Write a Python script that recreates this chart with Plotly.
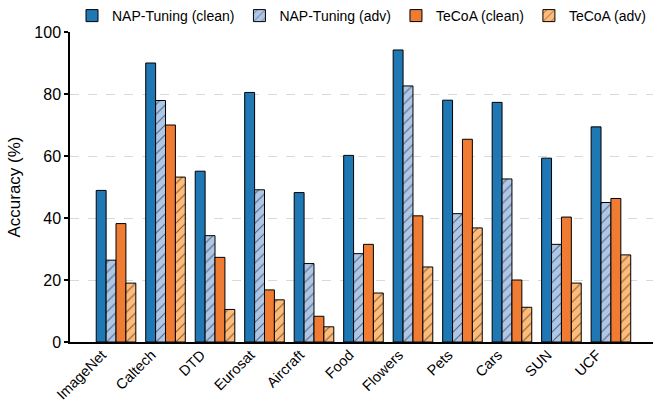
import plotly.graph_objects as go

categories = ["ImageNet", "Caltech", "DTD", "Eurosat", "Aircraft", "Food",
              "Flowers", "Pets", "Cars", "SUN", "UCF"]
nap_clean = [48.9, 90.0, 55.1, 80.5, 48.2, 60.2, 94.2, 78.0, 77.3, 59.3, 69.4]
nap_adv = [26.4, 77.9, 34.3, 49.1, 25.3, 28.5, 82.6, 41.4, 52.6, 31.5, 45.0]
tecoa_clean = [38.2, 70.0, 27.3, 16.8, 8.3, 31.5, 40.7, 65.4, 20.0, 40.3, 46.3]
tecoa_adv = [19.0, 53.2, 10.5, 13.6, 4.9, 15.8, 24.2, 36.8, 11.2, 19.0, 28.1]
y_ticks = [0, 20, 40, 60, 80, 100]

series = [
    ("NAP-Tuning (clean)", nap_clean, "#1f77b4", ""),
    ("NAP-Tuning (adv)", nap_adv, "#aec7e8", "/"),
    ("TeCoA (clean)", tecoa_clean, "#f07b32", ""),
    ("TeCoA (adv)", tecoa_adv, "#ffbb78", "/"),
]

fig = go.Figure()
for name, vals, color, pat in series:
    fig.add_trace(go.Bar(
        x=categories, y=vals, name=name,
        marker=dict(color=color, line=dict(color="black", width=1),
                    pattern=dict(shape=pat, fgcolor="black", size=7, solidity=0.15)),
    ))

fig.update_layout(
    width=653, height=404,
    margin=dict(l=70, r=0, t=29, b=62),
    barmode="group", bargap=0.2, bargroupgap=0,
    plot_bgcolor="white", paper_bgcolor="white",
    font=dict(family="Liberation Sans, Arial, sans-serif", size=14, color="black"),
    legend=dict(orientation="h", x=0.5, xanchor="center", y=1.0, yanchor="bottom",
                font=dict(size=14), itemwidth=30, tracegroupgap=0),
    showlegend=True,
)
fig.update_xaxes(
    range=[-0.93, 10.85], tickangle=-45, showline=True, linecolor="black",
    linewidth=1.5, ticks="", showgrid=False, tickfont=dict(size=14.5),
    ticklabelshift=-14, ticklabelstandoff=-3, automargin=False,
)
fig.update_yaxes(
    range=[0, 100], tickvals=y_ticks, showline=True, linecolor="black",
    linewidth=1.5, ticks="outside", ticklen=4, tickwidth=1.5, tickcolor="black",
    showgrid=True, gridcolor="#d9d9d9", griddash="dash", gridwidth=1,
    title=dict(text="Accuracy (%)", font=dict(size=17), standoff=9),
    tickfont=dict(size=16), zeroline=False, automargin=False,
)
fig.write_html("out.html")
